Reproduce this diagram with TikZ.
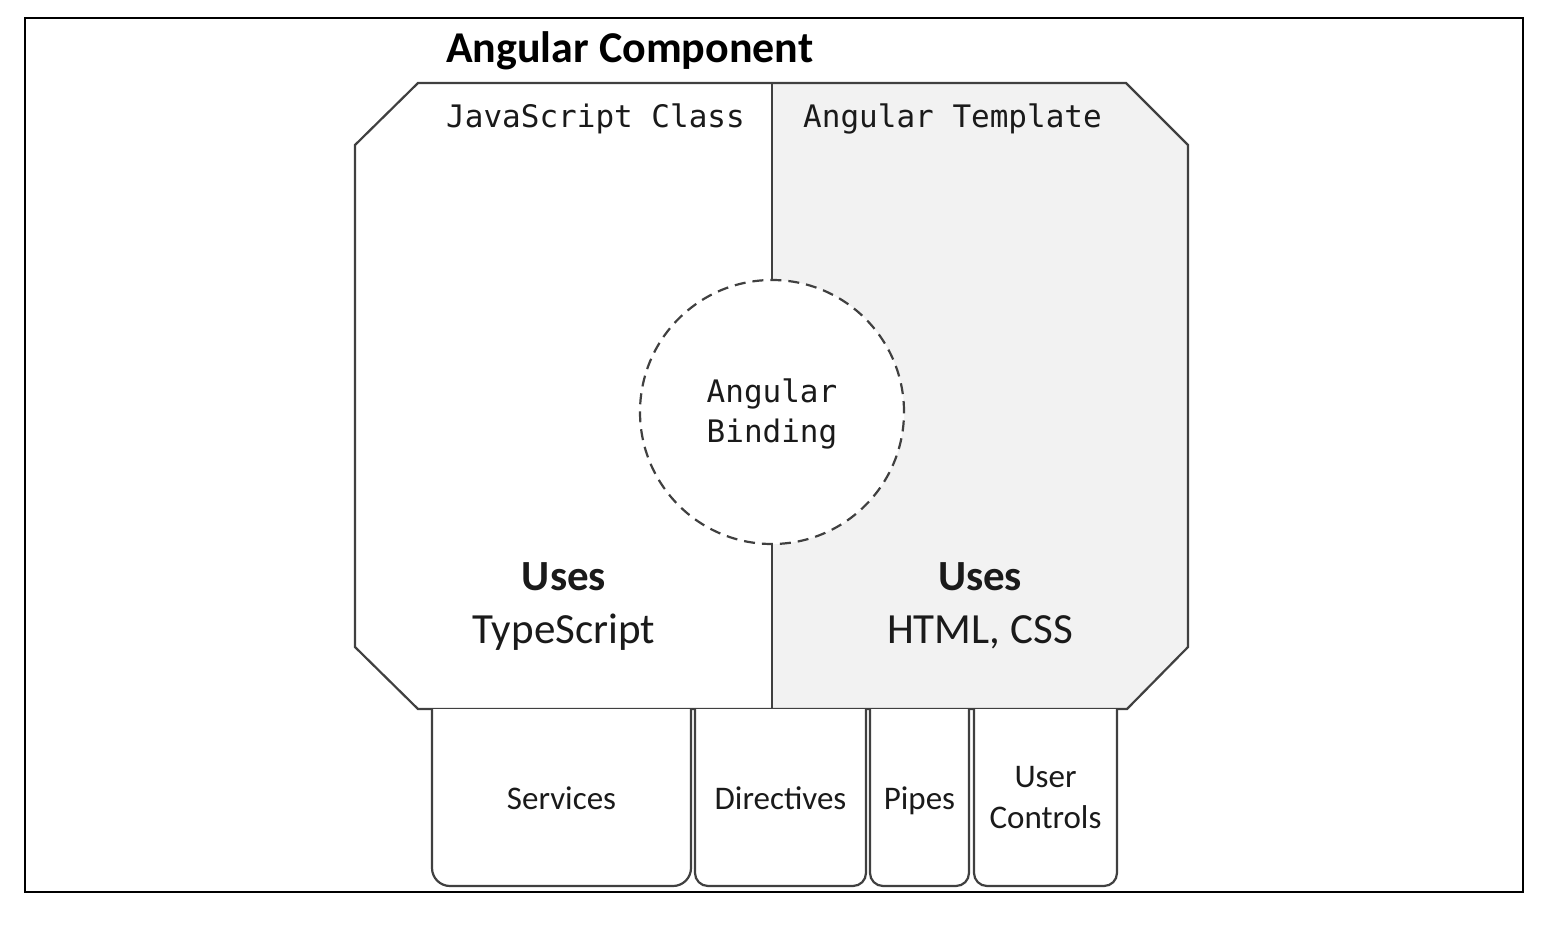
\documentclass[tikz,border=0pt]{standalone}
\usepackage{fontspec}
\setmainfont{Carlito}
\newfontfamily\codefont{DejaVu Sans Mono}
\definecolor{linegray}{HTML}{404040}
\definecolor{panelgray}{HTML}{F2F2F2}
\definecolor{txt}{HTML}{1A1A1A}
\tikzset{
  shapeline/.style={draw=linegray, line width=2.2pt},
  bigtxt/.style={inner sep=0pt, anchor=base, text=txt, font=\fontsize{43}{52}\selectfont},
  codetxt/.style={inner sep=0pt, anchor=base west, text=txt, font=\codefont\fontsize{31}{40}\selectfont},
  smalltxt/.style={inner sep=0pt, anchor=base, text=txt, font=\fontsize{33}{42}\selectfont},
  tabbox/.style={draw=linegray, line width=2.2pt, fill=white, rounded corners=18pt},
}
\begin{document}
\begin{tikzpicture}[x=1pt,y=-1pt]
\useasboundingbox (0,0) rectangle (1562,924);
\fill[white] (0,0) rectangle (1562,924);
% outer frame
\draw[line width=2pt, black] (25,18) rectangle (1523,892);
% octagon halves
\fill[white] (418,83) -- (772,83) -- (772,709) -- (418,709) -- (355,647) -- (355,145) -- cycle;
\fill[panelgray] (772,83) -- (1126,83) -- (1188,145) -- (1188,647) -- (1127,709) -- (772,709) -- cycle;
\draw[shapeline] (418,83) -- (1126,83) -- (1188,145) -- (1188,647) -- (1127,709) -- (418,709) -- (355,647) -- (355,145) -- cycle;
% binding circle
\node[circle, minimum size=264pt, inner sep=0pt, draw=linegray, line width=2.2pt, dash pattern=on 11pt off 7pt, fill=white] (bind) at (772,412) {};
\coordinate (divtop) at (772,83);
\coordinate (divbot) at (772,709);
\draw[shapeline] (divtop) -- (bind.north);
\draw[shapeline] (bind.south) -- (divbot);
\node[inner sep=0pt, align=center, text=txt, font=\codefont\fontsize{31}{40}\selectfont] (bindlbl) at (772,414) {Angular\\Binding};
% titles
\node[inner sep=0pt, anchor=base west, text=black, font=\bfseries\fontsize{44}{52}\selectfont] (title) at (446,62) {Angular Component};
\node[codetxt] (jsclass) at (446,127) {JavaScript Class};
\node[codetxt] (ngtpl) at (803,127) {Angular Template};
% uses
\node[bigtxt, font=\bfseries\fontsize{43}{52}\selectfont] (usesL) at (564,590) {Uses};
\node[bigtxt] (ts) at (564,643) {TypeScript};
\node[bigtxt, font=\bfseries\fontsize{43}{52}\selectfont] (usesR) at (980,590) {Uses};
\node[bigtxt] (htmlcss) at (980,643) {HTML, CSS};
% bottom tabs
\draw[tabbox] (432,709) -- (432,886) -- (691,886) -- (691,709);
\draw[tabbox, rounded corners=13pt] (695,709) -- (695,886) -- (866,886) -- (866,709);
\draw[tabbox, rounded corners=13pt] (870,709) -- (870,886) -- (969,886) -- (969,709);
\draw[tabbox, rounded corners=13pt] (974,709) -- (974,886) -- (1117,886) -- (1117,709);
\node[smalltxt] (svc) at (561.5,809) {Services};
\node[smalltxt] (dir) at (780.5,809) {Directives};
\node[smalltxt] (pipes) at (919.5,809) {Pipes};
\node[smalltxt] (user) at (1045.5,787) {User};
\node[smalltxt] (ctrl) at (1045.5,828) {Controls};
\end{tikzpicture}
\end{document}
